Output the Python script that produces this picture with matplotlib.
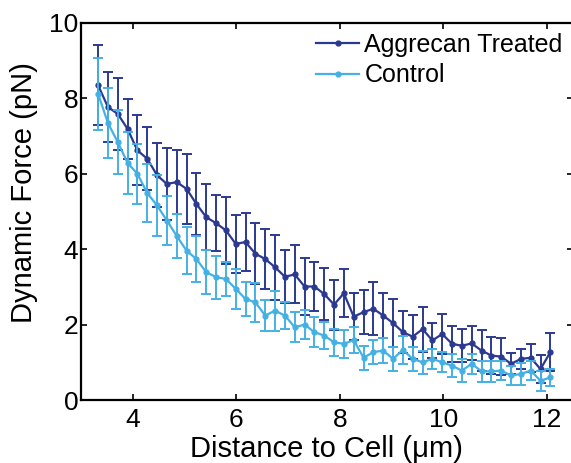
import numpy as np
import matplotlib
matplotlib.use("Agg")
import matplotlib.pyplot as plt
from matplotlib.lines import Line2D

plt.rcParams['font.family'] = ['Liberation Sans', 'DejaVu Sans']

# distance to cell (um)
distance = [3.33, 3.52, 3.71, 3.90, 4.09, 4.28, 4.47, 4.66, 4.85, 5.04,
            5.23, 5.42, 5.61, 5.80, 5.99, 6.18, 6.37, 6.56, 6.75, 6.94,
            7.13, 7.32, 7.51, 7.70, 7.89, 8.08, 8.27, 8.46, 8.65, 8.84,
            9.03, 9.22, 9.41, 9.60, 9.79, 9.98, 10.17, 10.36, 10.55, 10.74,
            10.93, 11.12, 11.31, 11.50, 11.69, 11.88, 12.07]

# Aggrecan treated: mean and upper error bar end
treated = [8.35, 7.77, 7.59, 7.19, 6.62, 6.40, 5.96, 5.73, 5.78, 5.60,
           5.20, 4.85, 4.69, 4.50, 4.14, 4.19, 3.88, 3.74, 3.52, 3.27,
           3.33, 3.01, 3.01, 2.81, 2.53, 2.83, 2.21, 2.33, 2.42, 2.24,
           2.04, 1.80, 1.68, 1.88, 1.58, 1.75, 1.49, 1.44, 1.50, 1.31,
           1.18, 1.15, 0.96, 1.09, 1.12, 0.82, 1.27]
treated_top = [9.41, 8.70, 8.55, 7.99, 7.55, 7.24, 6.81, 6.68, 6.62, 6.53,
               6.02, 5.73, 5.44, 5.38, 4.92, 4.96, 4.69, 4.53, 4.38, 3.98,
               4.10, 3.77, 3.65, 3.50, 3.19, 3.47, 2.83, 2.92, 3.12, 2.83,
               2.67, 2.35, 2.26, 2.48, 2.04, 2.28, 1.97, 1.88, 1.95, 1.86,
               1.68, 1.65, 1.24, 1.35, 1.49, 1.20, 1.78]

# Control: mean and upper error bar end
control = [8.12, 7.35, 6.84, 6.29, 6.00, 5.49, 5.16, 4.76, 4.35, 3.96,
           3.74, 3.39, 3.26, 3.21, 2.95, 2.68, 2.59, 2.24, 2.37, 2.24,
           1.93, 2.00, 1.80, 1.71, 1.53, 1.49, 1.59, 1.12, 1.27, 1.31,
           1.09, 1.33, 1.09, 1.00, 1.09, 1.00, 0.91, 0.78, 0.96, 0.76,
           0.76, 0.78, 0.65, 0.69, 0.78, 0.51, 0.60]
control_top = [9.08, 8.28, 7.68, 7.11, 6.80, 6.27, 5.96, 5.42, 4.94, 4.58,
               4.36, 3.98, 3.83, 3.65, 3.48, 3.12, 3.10, 2.65, 2.90, 2.59,
               2.33, 2.39, 2.19, 2.06, 1.88, 1.86, 1.93, 1.44, 1.58, 1.65,
               1.40, 1.71, 1.40, 1.31, 1.35, 1.27, 1.22, 1.09, 1.22, 1.04,
               1.03, 1.03, 0.91, 0.97, 1.03, 0.78, 0.82]

treated_err = np.array(treated_top) - np.array(treated)
control_err = np.array(control_top) - np.array(control)

dark = '#2b3990'
light = '#45b1e3'

fig = plt.figure(figsize=(5.71, 4.63), dpi=100)
ax = fig.add_axes([81 / 571, 63 / 463, 491.6 / 571, 377 / 463])

ax.errorbar(distance, treated, yerr=treated_err, color=dark, marker='o',
            markersize=3.5, linewidth=1.6, elinewidth=1.4, capsize=3.5,
            capthick=1.4, zorder=2)
ax.errorbar(distance, control, yerr=control_err, color=light, marker='o',
            markersize=3.5, linewidth=1.6, elinewidth=1.4, capsize=3.5,
            capthick=1.4, zorder=3)

ax.set_xlim(3, 12.5)
ax.set_ylim(0, 10)
ax.set_xticks([4, 6, 8, 10, 12])
ax.set_yticks([0, 2, 4, 6, 8, 10])
ax.tick_params(direction='in', top=True, right=True, labelsize=19,
               length=4, width=1.2)
ax.tick_params(axis='x', pad=6)
ax.tick_params(axis='y', pad=2)
for s in ax.spines.values():
    s.set_linewidth(1.6)

ax.set_xlabel('Distance to Cell (μm)', fontsize=21, labelpad=2)
ax.set_ylabel('Dynamic Force (pN)', fontsize=21, labelpad=8)
ax.yaxis.label.set_y(0.55)

handles = [Line2D([], [], color=dark, marker='o', markersize=3.5, linewidth=1.6),
           Line2D([], [], color=light, marker='o', markersize=3.5, linewidth=1.6)]
ax.legend(handles, ['Aggrecan Treated', 'Control'], loc='upper left',
          frameon=False, fontsize=18, handlelength=1.75, handletextpad=0.2,
          labelspacing=0.25, borderaxespad=0.0, bbox_to_anchor=(0.457, 1.0))

fig.savefig('out.png', dpi=100)
